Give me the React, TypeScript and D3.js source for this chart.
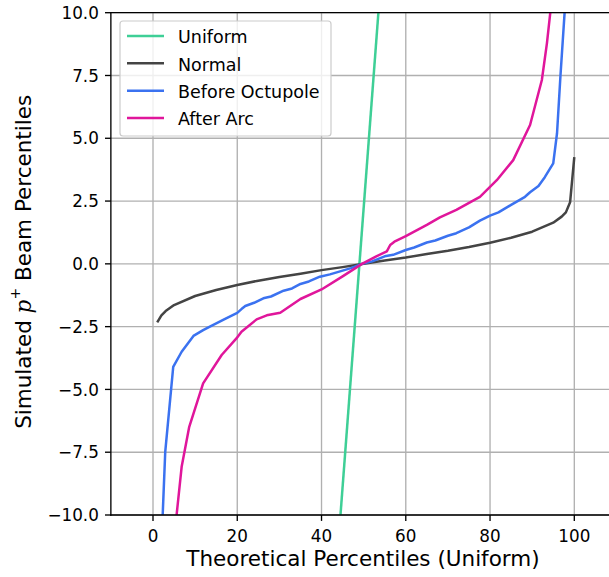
import React from "react";
import * as d3 from "d3";

const xTicks = [0, 20, 40, 60, 80, 100];
const yTicks = [-10, -7.5, -5, -2.5, 0, 2.5, 5, 7.5, 10];

const uniformX = [40, 58];
const uniformY = [-20, 20];

const normalX = [1, 2, 3, 5, 10, 15, 20, 25, 30, 35, 40, 45, 50, 55, 60, 65, 70, 75, 80, 85, 90, 95, 97, 98, 99, 100];
const normalY = [-2.33, -2.05, -1.88, -1.64, -1.28, -1.04, -0.84, -0.67, -0.52, -0.39, -0.25, -0.13, 0, 0.13, 0.25, 0.39, 0.52, 0.67, 0.84, 1.04, 1.28, 1.64, 1.88, 2.05, 2.45, 4.25];

const beforeX = [1, 2.3, 2.9, 4.8, 6.8, 9.6, 11.9, 13.5, 17, 20, 21, 21.9, 24, 26.2, 28, 31, 33, 35, 37, 39.6, 42, 45, 47, 49.6, 52, 55, 57, 60, 62, 65, 67, 70, 72, 75, 77.6, 80, 82, 85, 88.3, 89.5, 91.5, 93, 95, 95.9, 96.7, 97.7, 99];
const beforeY = [-16, -10, -7.5, -4.1, -3.5, -2.87, -2.64, -2.5, -2.2, -1.95, -1.8, -1.68, -1.55, -1.37, -1.3, -1.07, -0.98, -0.8, -0.7, -0.51, -0.42, -0.27, -0.17, 0, 0.1, 0.3, 0.36, 0.55, 0.65, 0.85, 0.93, 1.12, 1.22, 1.45, 1.72, 1.92, 2.05, 2.35, 2.67, 2.85, 3.1, 3.45, 4.0, 5.2, 7.45, 10, 16];

const afterX = [4, 5.6, 6.8, 8.6, 11.9, 16.3, 19.8, 21, 24.6, 27, 30.2, 35, 40, 45, 49.6, 53, 55.5, 56.3, 57.3, 60, 65, 68.1, 72, 77.6, 81.6, 85.5, 89.5, 92.3, 93.5, 94.3, 95.5];
const afterY = [-14, -10, -8.08, -6.49, -4.76, -3.63, -2.97, -2.7, -2.21, -2.05, -1.95, -1.4, -1.02, -0.5, 0, 0.3, 0.5, 0.75, 0.88, 1.1, 1.55, 1.85, 2.15, 2.67, 3.33, 4.13, 5.53, 7.32, 8.78, 10, 13];

const seriesNames = ["Uniform", "Normal", "Before Octupole", "After Arc"];
const seriesColors = ["#3ecf96", "#444444", "#3b72f0", "#e0169b"];

const W = 609;
const H = 577;

export default function App() {
  const x = d3.scaleLinear().domain([0, 100]).range([153, 574.3]);
  const y = d3.scaleLinear().domain([-10, 10]).range([515, 12.7]);
  const x0 = x(-10);
  const x1 = x(110);
  const yTop = y(10);
  const yBot = y(-10);

  const series = [
    { xs: uniformX, ys: uniformY },
    { xs: normalX, ys: normalY },
    { xs: beforeX, ys: beforeY },
    { xs: afterX, ys: afterY },
  ];
  const line = d3
    .line<[number, number]>()
    .x((d) => x(d[0]))
    .y((d) => y(d[1]));

  const fmtY = (v: number) => (v < 0 ? "\u2212" : "") + Math.abs(v).toFixed(1);
  const font = "DejaVu Sans, sans-serif";
  const lw = 1.34;

  return (
    <svg width={W} height={H} style={{ position: "absolute", left: 0, top: 0 }} fontFamily={font}>
      <defs>
        <clipPath id="plotclip">
          <rect x={x0} y={yTop} width={x1 - x0} height={yBot - yTop} />
        </clipPath>
      </defs>
      <rect x={0} y={0} width={W} height={H} fill="white" />
      {xTicks.map((t) => (
        <line key={"gx" + t} x1={x(t)} x2={x(t)} y1={yTop} y2={yBot} stroke="#b0b0b0" strokeWidth={lw} />
      ))}
      {yTicks.map((t) => (
        <line key={"gy" + t} x1={x0} x2={x1} y1={y(t)} y2={y(t)} stroke="#b0b0b0" strokeWidth={lw} />
      ))}
      <g clipPath="url(#plotclip)">
        {series.map((s, i) => (
          <path
            key={i}
            d={line(s.xs.map((v, j) => [v, s.ys[j]] as [number, number])) || ""}
            fill="none"
            stroke={seriesColors[i]}
            strokeWidth={2.5}
            strokeLinejoin="round"
            strokeLinecap="butt"
          />
        ))}
      </g>
      <line x1={x0} x2={x0} y1={yTop} y2={yBot} stroke="black" strokeWidth={lw} strokeLinecap="square" />
      <line x1={x0} x2={x1} y1={yBot} y2={yBot} stroke="black" strokeWidth={lw} strokeLinecap="square" />
      <line x1={x0} x2={x1} y1={yTop} y2={yTop} stroke="black" strokeWidth={lw} strokeLinecap="square" />
      <line x1={x1} x2={x1} y1={yTop} y2={yBot} stroke="black" strokeWidth={lw} strokeLinecap="square" />
      {xTicks.map((t) => (
        <g key={"tx" + t}>
          <line x1={x(t)} x2={x(t)} y1={yBot} y2={yBot + 5.9} stroke="black" strokeWidth={lw} />
          <text x={x(t)} y={541.7} textAnchor="middle" fontSize={16.8} fill="black">
            {t}
          </text>
        </g>
      ))}
      {yTicks.map((t) => (
        <g key={"ty" + t}>
          <line x1={x0} x2={x0 - 5.9} y1={y(t)} y2={y(t)} stroke="black" strokeWidth={lw} />
          <text x={x0 - 12} y={y(t) + 6.1} textAnchor="end" fontSize={16.8} fill="black">
            {fmtY(t)}
          </text>
        </g>
      ))}
      <text x={363} y={566} textAnchor="middle" fontSize={21.5} fill="black">
        Theoretical Percentiles (Uniform)
      </text>
      <text
        transform={`translate(31, ${(yTop + yBot) / 2 - 2}) rotate(-90)`}
        textAnchor="middle"
        fontSize={21.5}
        fill="black"
      >
        <tspan>Simulated </tspan>
        <tspan fontFamily="DejaVu Serif, serif" fontStyle="italic">p</tspan>
        <tspan fontSize={14} dy={-11}>+</tspan>
        <tspan dy={11}> Beam Percentiles</tspan>
      </text>
      <rect x={120} y={21} width={211} height={115} rx={3} fill="white" fillOpacity={0.8} stroke="#cccccc" strokeWidth={1.2} />
      {seriesNames.map((n, i) => {
        const ly = 36 + i * 27.35;
        return (
          <g key={n}>
            <line x1={127} x2={164} y1={ly} y2={ly} stroke={seriesColors[i]} strokeWidth={2.5} />
            <text x={178} y={ly + 7.3} fontSize={17.5} fill="black">
              {n}
            </text>
          </g>
        );
      })}
    </svg>
  );
}
